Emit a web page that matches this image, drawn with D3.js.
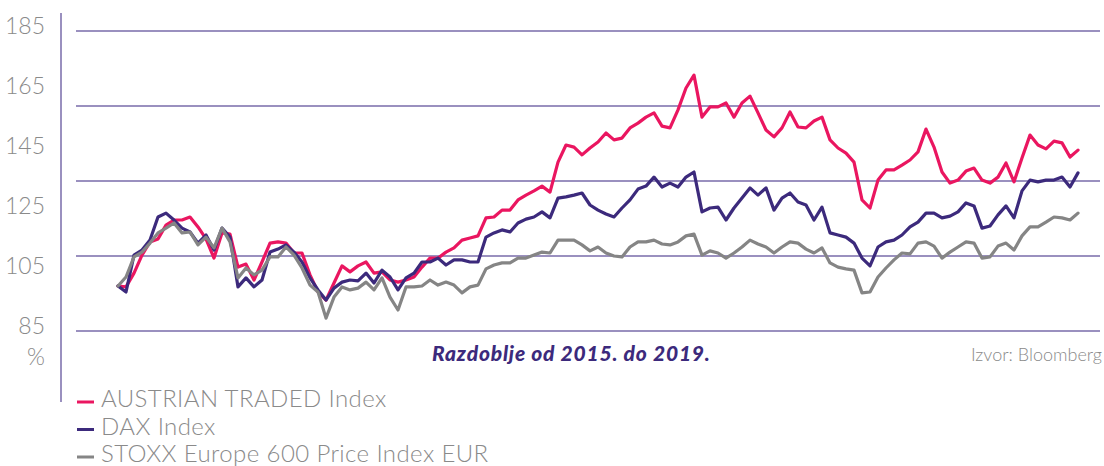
<!DOCTYPE html>
<html>
<head>
<meta charset="utf-8">
<script src="https://cdn.jsdelivr.net/npm/d3@7"></script>
<style>
  html, body { margin: 0; padding: 0; background: #fff; }
  text { font-family: Lato, "Open Sans", sans-serif; }
</style>
</head>
<body>
<div id="chart"></div>
<script>
var w = 1104,
    h = 466;

// index values, 2015 = 100 (one point every ~8px)
var atx = [100.0, 99.7, 104.3, 110.3, 114.7, 115.7, 120.3, 122.0, 122.0, 123.0, 119.7, 115.7, 109.3, 117.7, 117.3, 106.3, 107.3, 102.0, 108.0, 114.3, 114.7, 114.3, 111.0, 111.0, 103.7, 98.0, 95.3, 101.0, 106.7, 104.7, 106.7,
  108.0, 104.3, 104.7, 102.0, 101.3, 102.0, 103.0, 106.3, 109.3, 109.3, 111.3, 112.7, 115.3, 116.0, 116.7, 122.7, 123.0, 125.3, 125.3, 128.7, 130.3, 131.7, 133.3, 131.3, 141.3, 147.0, 146.3, 143.7, 146.0, 148.0,
  151.0, 148.7, 149.3, 152.7, 154.3, 156.3, 157.7, 153.3, 152.7, 158.7, 166.0, 170.3, 156.3, 159.7, 159.7, 161.0, 156.3, 161.0, 163.3, 157.7, 152.0, 149.7, 152.7, 158.0, 153.0, 152.7, 155.0, 156.3, 148.7, 146.0,
  144.3, 141.3, 128.7, 126.0, 135.3, 138.7, 138.7, 140.3, 142.0, 144.7, 152.3, 146.3, 138.0, 134.3, 135.3, 138.3, 139.3, 135.3, 134.3, 136.3, 141.0, 134.7, 142.7, 150.3, 147.0, 145.7, 148.3, 147.7, 143.0, 145.3];

var dax = [100.0, 98.0, 110.3, 112.0, 115.3, 123.0, 124.3, 122.0, 119.3, 118.0, 114.3, 117.0, 112.0, 119.3, 116.3, 99.7, 102.7, 99.7, 102.0, 111.3, 112.3, 113.7, 111.3, 108.0, 102.7, 98.7, 95.3, 99.3, 101.3, 102.0, 101.7,
  104.3, 101.0, 105.3, 103.0, 98.7, 102.7, 104.3, 108.0, 108.0, 109.3, 107.0, 108.7, 108.7, 108.0, 108.0, 116.3, 117.7, 118.7, 118.0, 121.0, 122.3, 123.0, 124.7, 122.7, 129.3, 129.7, 130.3, 131.0, 127.0, 125.3,
  124.0, 123.0, 126.0, 128.7, 132.3, 133.3, 136.3, 133.0, 134.3, 133.0, 136.3, 138.0, 124.7, 126.0, 126.3, 122.0, 126.0, 129.3, 132.7, 130.3, 132.7, 125.3, 129.3, 131.0, 128.0, 127.0, 122.0, 126.3, 117.7, 117.0,
  116.3, 114.3, 109.3, 106.7, 113.0, 114.7, 115.3, 117.0, 119.7, 121.3, 124.3, 124.3, 122.7, 123.3, 124.7, 127.7, 126.7, 119.3, 120.0, 123.7, 126.7, 122.7, 131.7, 135.3, 134.7, 135.3, 135.3, 136.3, 133.0, 137.7];

var stoxx = [100.0, 103.0, 109.7, 111.3, 114.3, 117.7, 119.3, 121.0, 117.7, 118.0, 113.7, 116.3, 112.7, 119.3, 114.7, 102.7, 106.0, 103.7, 105.3, 109.7, 109.7, 113.0, 110.3, 106.0, 100.3, 98.0, 89.3, 96.3, 99.7, 98.7, 99.3,
  101.3, 98.7, 102.7, 96.3, 92.0, 99.7, 99.7, 100.0, 102.0, 100.3, 101.3, 100.3, 97.7, 99.7, 100.3, 105.7, 107.0, 107.7, 107.7, 109.3, 109.3, 110.3, 111.3, 111.0, 115.3, 115.3, 115.3, 113.7, 111.7, 113.0,
  111.0, 110.0, 109.7, 113.0, 114.7, 114.7, 115.3, 114.0, 113.7, 114.7, 116.7, 117.3, 110.3, 111.7, 111.0, 109.3, 111.0, 113.0, 115.3, 114.0, 113.0, 111.0, 113.0, 114.7, 114.3, 112.3, 111.0, 112.7, 107.7, 106.3,
  105.7, 105.3, 97.7, 98.0, 103.0, 106.0, 108.7, 111.0, 110.7, 114.3, 114.7, 113.3, 109.3, 111.3, 113.0, 114.7, 114.3, 109.3, 109.7, 113.3, 114.3, 112.0, 116.7, 119.7, 119.7, 121.3, 123.0, 122.7, 122.0, 124.3];

var seriesNames = ["AUSTRIAN TRADED Index", "DAX Index", "STOXX Europe 600 Price Index EUR"];
var seriesColors = ["#ea1660", "#3c2a7c", "#858585"];
var gridValues = [85, 110, 135, 160, 185];
var tickLabels = [185, 165, 145, 125, 105, 85];

var svg = d3.select("#chart")
  .append("svg")
  .attr("width", w)
  .attr("height", h);

var x = d3.scaleLinear().domain([0, atx.length - 1]).range([118, 1078]);
var y = d3.scaleLinear().domain([85, 185]).range([331, 31]);

var lavender = "#9a90bf";

// grid
svg.selectAll(".grid")
  .data(gridValues)
  .enter()
  .append("line")
  .attr("class", "grid")
  .attr("x1", 76)
  .attr("x2", 1100)
  .attr("y1", function(d) { return y(d); })
  .attr("y2", function(d) { return y(d); })
  .attr("stroke", lavender)
  .attr("stroke-width", 2);

// vertical axis line
svg.append("line")
  .attr("x1", 61).attr("x2", 61)
  .attr("y1", 13).attr("y2", 402)
  .attr("stroke", lavender)
  .attr("stroke-width", 2);

// tick labels
svg.selectAll(".tick")
  .data(tickLabels)
  .enter()
  .append("text")
  .attr("class", "tick")
  .attr("x", 45)
  .attr("y", function(d) { return y(d) + 2.5; })
  .attr("text-anchor", "end")
  .attr("font-size", "23px")
  .attr("font-weight", 300)
  .attr("fill", "#8a8a8a")
  .text(function(d) { return d; });

svg.append("text")
  .attr("x", 45)
  .attr("y", 365)
  .attr("text-anchor", "end")
  .attr("font-size", "23px")
  .attr("font-weight", 300)
  .attr("fill", "#8a8a8a")
  .text("%");

// lines
var line = d3.line()
  .x(function(d, i) { return x(i); })
  .y(function(d) { return y(d); });

var allSeries = [atx, dax, stoxx];
svg.selectAll(".series")
  .data(allSeries)
  .enter()
  .append("path")
  .attr("class", "series")
  .attr("d", line)
  .attr("fill", "none")
  .attr("stroke", function(d, i) { return seriesColors[i]; })
  .attr("stroke-width", 3.2)
  .attr("stroke-linejoin", "round")
  .attr("stroke-linecap", "round");

// caption + source
svg.append("text")
  .attr("x", 432)
  .attr("y", 361)
  .attr("font-size", "21px")
  .attr("font-weight", 900)
  .attr("font-style", "italic")
  .attr("letter-spacing", "0.8px")
  .attr("fill", "#3c2a7c")
  .text("Razdoblje od 2015. do 2019.");

svg.append("text")
  .attr("x", 1102)
  .attr("y", 361)
  .attr("text-anchor", "end")
  .attr("font-size", "18px")
  .attr("font-weight", 300)
  .attr("fill", "#8a8a8a")
  .text("Izvor: Bloomberg");

// legend
var legend = svg.selectAll(".legend")
  .data(seriesNames)
  .enter()
  .append("g")
  .attr("class", "legend")
  .attr("transform", function(d, i) { return "translate(0," + (402 + i * 27.5) + ")"; });

legend.append("line")
  .attr("x1", 77).attr("x2", 94)
  .attr("y1", 0).attr("y2", 0)
  .attr("stroke", function(d, i) { return seriesColors[i]; })
  .attr("stroke-width", 3);

legend.append("text")
  .attr("x", 101)
  .attr("y", 5)
  .attr("font-size", "24px")
  .attr("font-weight", 300)
  .attr("letter-spacing", "0.4px")
  .attr("fill", "#8a8a8a")
  .text(function(d) { return d; });
</script>
</body>
</html>
